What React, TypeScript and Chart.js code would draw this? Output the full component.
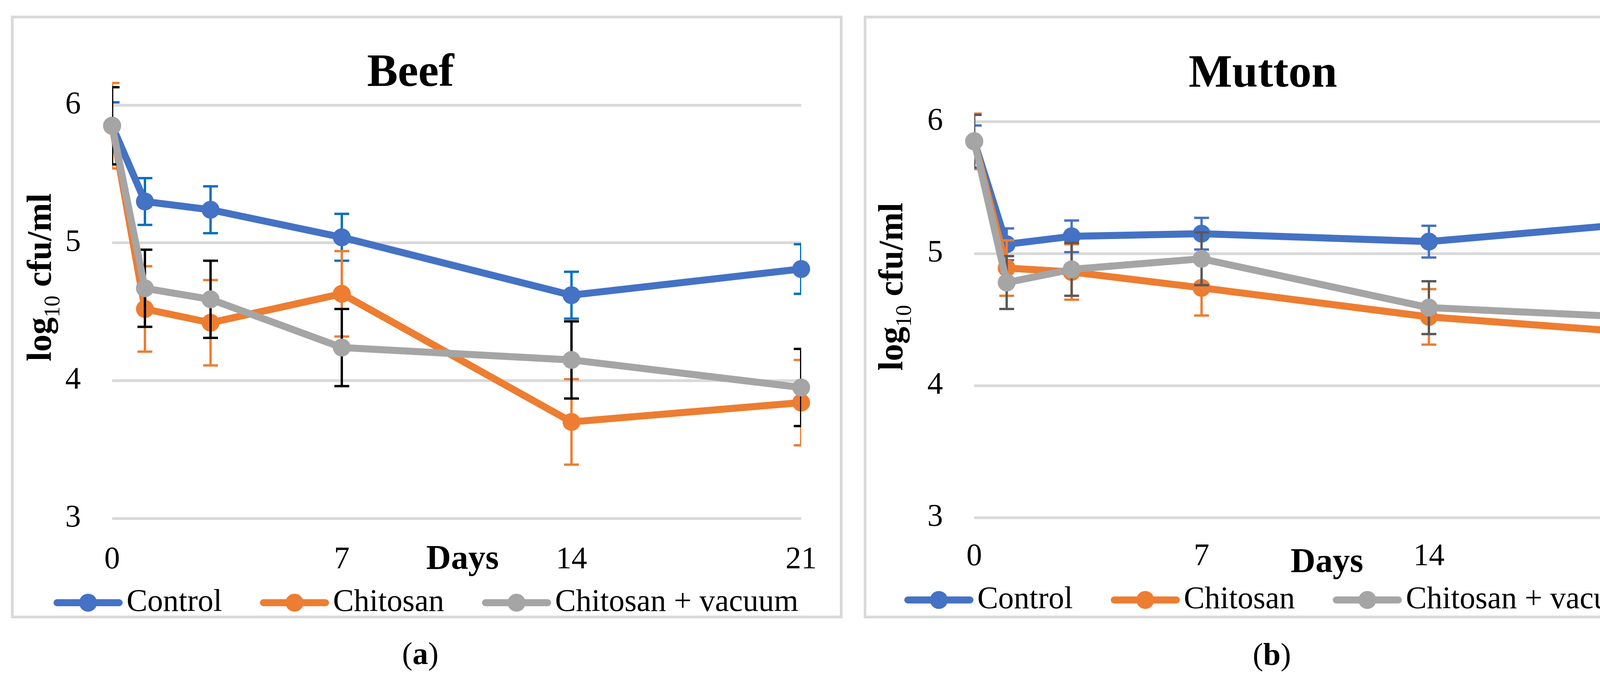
import { useEffect, useRef } from "react"
import { Chart, registerables } from "chart.js"

Chart.register(...registerables)

const FONT = "'Liberation Serif', 'Times New Roman', serif"
Chart.defaults.font.family = FONT
Chart.defaults.color = "#000"

// Sample data
const days = [0, 1, 3, 7, 14, 21]
const xTicks = [0, 7, 14, 21]
const yTicks = [3, 4, 5, 6]
const seriesNames = ["Control", "Chitosan", "Chitosan + vacuum"]

const beefControl = [5.85, 5.3, 5.24, 5.04, 4.62, 4.81]
const beefChitosan = [5.85, 4.52, 4.42, 4.63, 3.7, 3.84]
const beefVacuum = [5.85, 4.67, 4.59, 4.24, 4.15, 3.95]
const beefControlErr = [0.17, 0.17, 0.17, 0.17, 0.17, 0.18]
const beefChitosanErr = [0.31, 0.31, 0.31, 0.31, 0.31, 0.31]
const beefVacuumErr = [0.28, 0.28, 0.28, 0.28, 0.28, 0.28]

const muttonControl = [5.85, 5.07, 5.13, 5.15, 5.09, 5.24]
const muttonChitosan = [5.85, 4.89, 4.86, 4.74, 4.52, 4.39]
const muttonVacuum = [5.85, 4.78, 4.88, 4.96, 4.59, 4.51]
const muttonControlErr = [0.12, 0.12, 0.12, 0.12, 0.12, 0.12]
const muttonChitosanErr = [0.21, 0.21, 0.21, 0.21, 0.21, 0.21]
const muttonVacuumErr = [0.2, 0.2, 0.2, 0.2, 0.2, 0.2]

const lineColors = ["#4472C4", "#ED7D31", "#A5A5A5"]

type Layout = {
  left: number
  top: number
  width: number
  height: number
  yWidth: number
  padRight: number
  padBottom: number
  titlePadTop: number
  titlePadBottom: number
  xHeight: number
  xTickPad: number
  daysX: number
  daysY: number
  yTitleX: number
  yTitleY: number
  legendX: number
  legendY: number
  captionX: number
  captionY: number
}

type Panel = {
  title: string
  caption: string
  series: number[][]
  errors: number[][]
  errColors: string[]
  layout: Layout
}

const panels: Panel[] = [
  {
    title: "Beef",
    caption: "a",
    series: [beefControl, beefChitosan, beefVacuum],
    errors: [beefControlErr, beefChitosanErr, beefVacuumErr],
    errColors: ["#0070C0", "#ED7D31", "#000000"],
    layout: {
      left: 28, top: 40, width: 2129, height: 1543,
      yWidth: 252, padRight: 83, padBottom: 99,
      titlePadTop: 84, titlePadBottom: 20,
      xHeight: 150, xTickPad: 59,
      daysX: 1149, daysY: 1386, yTitleX: 95, yTitleY: 663,
      legendX: 102, legendY: 1496,
      captionX: 1076, captionY: 1673,
    },
  },
  {
    title: "Mutton",
    caption: "b",
    series: [muttonControl, muttonChitosan, muttonVacuum],
    errors: [muttonControlErr, muttonChitosanErr, muttonVacuumErr],
    errColors: ["#4472C4", "#ED7D31", "#595959"],
    layout: {
      left: 2211, top: 40, width: 2129, height: 1543,
      yWidth: 276, padRight: 85, padBottom: 101,
      titlePadTop: 86, titlePadBottom: 60,
      xHeight: 150, xTickPad: 53,
      daysX: 1179, daysY: 1394, yTitleX: 92, yTitleY: 687,
      legendX: 97, legendY: 1489,
      captionX: 3256, captionY: 1675,
    },
  },
]

const BORDER = 7

function PanelChart({ panel }: { panel: Panel }) {
  const chartRef = useRef<HTMLCanvasElement>(null)
  const L = panel.layout
  const cw = L.width - 2 * BORDER
  const ch = L.height - 2 * BORDER

  useEffect(() => {
    if (!chartRef.current) return
    const ctx = chartRef.current.getContext("2d")
    if (!ctx) return

    // error bars, drawn under each series' own line and markers
    const errorBars = {
      id: "errorBars",
      beforeDatasetDraw(chart: Chart, args: any) {
        const i = args.index
        const err = panel.errors[i]
        const { chartArea, scales } = chart
        const c = chart.ctx
        const pts = chart.data.datasets[i].data as { x: number; y: number }[]
        c.save()
        c.beginPath()
        c.rect(chartArea.left, 0, chartArea.right - chartArea.left, chart.height)
        c.clip()
        c.strokeStyle = panel.errColors[i]
        c.lineWidth = 6
        pts.forEach((p, j) => {
          const x = scales.x.getPixelForValue(p.x)
          const yt = scales.y.getPixelForValue(p.y + err[j])
          const yb = scales.y.getPixelForValue(p.y - err[j])
          c.beginPath()
          c.moveTo(x, yt)
          c.lineTo(x, yb)
          c.moveTo(x - 19, yt)
          c.lineTo(x + 19, yt)
          c.moveTo(x - 19, yb)
          c.lineTo(x + 19, yb)
          c.stroke()
        })
        c.restore()
      },
    }

    // axis titles and the line+marker legend
    const labels = {
      id: "labels",
      afterDraw(chart: Chart) {
        const c = chart.ctx
        c.save()
        c.fillStyle = "#000"
        c.font = `bold 88px ${FONT}`
        c.textAlign = "center"
        c.textBaseline = "middle"
        c.fillText("Days", L.daysX, L.daysY)

        const parts: [string, string, number][] = [
          ["log", `bold 88px ${FONT}`, 0],
          ["10", `56px ${FONT}`, 22],
          [" cfu/ml", `bold 88px ${FONT}`, 0],
        ]
        let total = 0
        parts.forEach(([t, f]) => {
          c.font = f
          total += c.measureText(t).width
        })
        c.translate(L.yTitleX, L.yTitleY)
        c.rotate(-Math.PI / 2)
        c.textAlign = "left"
        c.textBaseline = "alphabetic"
        let cx = -total / 2
        parts.forEach(([t, f, dy]) => {
          c.font = f
          c.fillText(t, cx, dy)
          cx += c.measureText(t).width
        })
        c.restore()

        c.save()
        c.font = `80px ${FONT}`
        c.textAlign = "left"
        c.textBaseline = "middle"
        let x = L.legendX
        const y = L.legendY
        chart.data.datasets.forEach((ds) => {
          const color = ds.borderColor as string
          c.strokeStyle = color
          c.lineWidth = 18
          c.lineCap = "round"
          c.beginPath()
          c.moveTo(x + 9, y)
          c.lineTo(x + 168, y)
          c.stroke()
          c.fillStyle = color
          c.beginPath()
          c.arc(x + 88.5, y, 23, 0, Math.PI * 2)
          c.fill()
          c.fillStyle = "#000"
          c.fillText(ds.label as string, x + 187, y)
          x += 187 + c.measureText(ds.label as string).width + 97
        })
        c.restore()
      },
    }

    const chart = new Chart(ctx, {
      type: "line",
      data: {
        datasets: panel.series.map((vals, i) => ({
          label: seriesNames[i],
          data: days.map((d, j) => ({ x: d, y: vals[j] })),
          borderColor: lineColors[i],
          backgroundColor: lineColors[i],
          pointBackgroundColor: lineColors[i],
          pointBorderWidth: 0,
          pointRadius: 23,
          pointHoverRadius: 23,
          borderWidth: 18,
          borderJoinStyle: "round",
          borderCapStyle: "round",
          tension: 0,
          clip: false,
          order: 3 - i,
        })),
      },
      options: {
        responsive: false,
        devicePixelRatio: 1,
        animation: false,
        events: [],
        layout: {
          padding: { left: 0, top: 0, right: L.padRight, bottom: L.padBottom },
        },
        scales: {
          x: {
            type: "linear",
            min: 0,
            max: 21,
            afterBuildTicks: (s: any) => {
              s.ticks = xTicks.map((v) => ({ value: v }))
            },
            afterFit: (s: any) => {
              s.height = L.xHeight
            },
            ticks: {
              font: { size: 80 },
              color: "#000",
              padding: L.xTickPad,
              maxRotation: 0,
              autoSkip: false,
            },
            grid: { display: false, drawTicks: false },
            border: { display: false },
          },
          y: {
            type: "linear",
            min: 3,
            max: 6,
            afterBuildTicks: (s: any) => {
              s.ticks = yTicks.map((v) => ({ value: v }))
            },
            afterFit: (s: any) => {
              s.width = L.yWidth
            },
            ticks: { font: { size: 80 }, color: "#000", padding: 80 },
            grid: { color: "#D9D9D9", lineWidth: 7, drawTicks: false },
            border: { display: false },
          },
        },
        plugins: {
          legend: { display: false },
          tooltip: { enabled: false },
          title: {
            display: true,
            text: panel.title,
            color: "#000",
            font: { size: 118, weight: "bold", lineHeight: 1 },
            padding: { top: L.titlePadTop, bottom: L.titlePadBottom },
          },
        },
      },
      plugins: [errorBars, labels],
    })

    return () => {
      chart.destroy()
    }
  }, [panel])

  return (
    <>
      <div
        style={{
          position: "absolute",
          left: L.left,
          top: L.top,
          width: L.width,
          height: L.height,
          boxSizing: "border-box",
          border: `${BORDER}px solid #D9D9D9`,
          background: "#fff",
        }}
      >
        <canvas ref={chartRef} width={cw} height={ch} style={{ display: "block" }} />
      </div>
      <div
        style={{
          position: "absolute",
          left: L.captionX,
          top: L.captionY,
          transform: "translate(-50%, -50%)",
          fontFamily: FONT,
          fontSize: 80,
          lineHeight: 1,
          whiteSpace: "nowrap",
        }}
      >
        (<b>{panel.caption}</b>)
      </div>
    </>
  )
}

export default function App() {
  return (
    <div
      style={{
        position: "absolute",
        left: 0,
        top: 0,
        width: 4368,
        height: 1746,
        background: "#fff",
        overflow: "hidden",
      }}
    >
      {panels.map((p) => (
        <PanelChart key={p.title} panel={p} />
      ))}
    </div>
  )
}
